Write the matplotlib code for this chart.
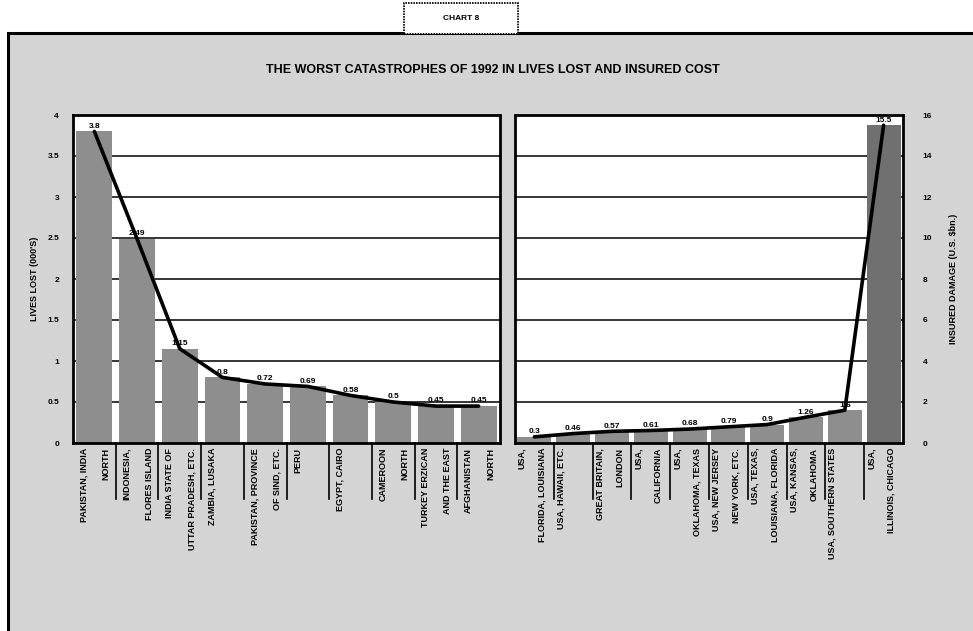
import matplotlib.pyplot as plt
from matplotlib.patches import Rectangle
from matplotlib.transforms import blended_transform_factory

plt.rcParams['font.family'] = ['Liberation Sans', 'DejaVu Sans']
plt.rcParams['font.weight'] = 'bold'

# lives lost (000's)
lives = [3.8, 2.49, 1.15, 0.8, 0.72, 0.69, 0.58, 0.5, 0.45, 0.45]
lives_text = ["3.8", "2.49", "1.15", "0.8", "0.72", "0.69", "0.58", "0.5", "0.45", "0.45"]
lives_labels = [
    ["PAKISTAN, INDIA", "NORTH"],
    ["INDONESIA,", "FLORES ISLAND"],
    ["INDIA STATE OF", "UTTAR PRADESH, ETC."],
    ["ZAMBIA, LUSAKA"],
    ["PAKISTAN, PROVINCE", "OF SIND, ETC."],
    ["PERU"],
    ["EGYPT, CAIRO"],
    ["CAMEROON", "NORTH"],
    ["TURKEY ERZICAN", "AND THE EAST"],
    ["AFGHANISTAN", "NORTH"],
]

# insured damage (US $bn)
cost = [0.3, 0.46, 0.57, 0.61, 0.68, 0.79, 0.9, 1.26, 1.6, 15.5]
cost_text = ["0.3", "0.46", "0.57", "0.61", "0.68", "0.79", "0.9", "1.26", "1.6", "15.5"]
cost_labels = [
    ["USA,", "FLORIDA, LOUISIANA"],
    ["USA, HAWAII, ETC."],
    ["GREAT BRITAIN,", "LONDON"],
    ["USA,", "CALIFORNIA"],
    ["USA,", "OKLAHOMA, TEXAS"],
    ["USA, NEW JERSEY", "NEW YORK, ETC."],
    ["USA, TEXAS,", "LOUISIANA, FLORIDA"],
    ["USA, KANSAS,", "OKLAHOMA"],
    ["USA, SOUTHERN STATES"],
    ["USA,", "ILLINOIS, CHICAGO"],
]

W, H = 973, 631
fig = plt.figure(figsize=(W / 100, H / 100), dpi=100)
fig.patch.set_facecolor('white')

# stippled panel background with frame
fig.patches.append(Rectangle((8 / W, -0.01), 1.0, 1 - 33 / H + 0.01, transform=fig.transFigure,
                             facecolor='#d4d4d4', edgecolor='black', linewidth=2.2, zorder=-2))
# chart number box
fig.patches.append(Rectangle((404 / W, 1 - 34 / H), 114 / W, 31 / H, transform=fig.transFigure,
                             facecolor='white', edgecolor='black', linewidth=1.2,
                             linestyle=(0, (1, 0.6)), zorder=-1))
fig.text(461 / W, 1 - 19 / H, "CHART 8", ha='center', va='center', fontsize=6, fontweight='bold')
fig.text(493 / W, 1 - 70 / H, "THE WORST CATASTROPHES OF 1992 IN LIVES LOST AND INSURED COST",
         ha='center', va='center', fontsize=9, fontweight='bold')

bot = 1 - 443 / H
hgt = (443 - 115) / H
ax1 = fig.add_axes([73 / W, bot, (500 - 73) / W, hgt])
ax2 = fig.add_axes([515 / W, bot, (903 - 515) / W, hgt])


def draw_panel(ax, vals, texts, labels, ymax, ystep, width, offs, bar_colors):
    x = list(range(len(vals)))
    ax.set_facecolor('white')
    ax.set_xlim(-0.5, len(vals) - 0.5)
    ax.set_ylim(0, ymax)
    ticks = [i * ystep for i in range(int(round(ymax / ystep)) + 1)]
    ax.set_yticks(ticks)
    for t in ticks[1:-1]:
        ax.axhline(t, color='black', linewidth=1.1, zorder=1)
    ax.bar(x, vals, width=width, color=bar_colors, edgecolor='none', zorder=2)
    ax.plot(x, vals, color='black', linewidth=2.6, zorder=4, solid_capstyle='round')
    for xi, v, s in zip(x, vals, texts):
        ax.text(xi, v + ymax * 0.005, s, ha='center', va='bottom', fontsize=6,
                fontweight='bold', zorder=5)
    for sp in ax.spines.values():
        sp.set_linewidth(2)
    ax.set_xticks([])
    tr = blended_transform_factory(ax.transData, ax.transAxes)
    for i, lab in enumerate(labels):
        for j, line in enumerate(lab):
            ax.text(i + offs[j], -0.015, line, transform=tr, rotation=90, ha='center',
                    va='top', fontsize=6.5, fontweight='bold')
        if i > 0:
            ax.plot([i - 0.5, i - 0.5], [0, -0.17], transform=tr, color='black',
                    linewidth=1.2, clip_on=False)


draw_panel(ax1, lives, lives_text, lives_labels, 4, 0.5, 0.84, [-0.24, 0.28], '#8e8e8e')
ax1.set_yticklabels(["0", "0.5", "1", "1.5", "2", "2.5", "3", "3.5", "4"])
ax1.tick_params(axis='y', length=0, labelsize=6, pad=10)
ax1.set_ylabel("LIVES LOST (000'S)", fontsize=6.5, fontweight='bold', labelpad=6)

bar_cols = ['#8e8e8e'] * 9 + ['#707070']
draw_panel(ax2, cost, cost_text, cost_labels, 16, 2, 0.88, [-0.32, 0.2], bar_cols)
ax2.yaxis.tick_right()
ax2.yaxis.set_label_position('right')
ax2.tick_params(axis='y', length=0, labelsize=6, pad=14)
ax2.set_ylabel("INSURED DAMAGE (U.S. $bn.)", fontsize=6.5, fontweight='bold', labelpad=12)

fig.savefig("out.png", dpi=100)
